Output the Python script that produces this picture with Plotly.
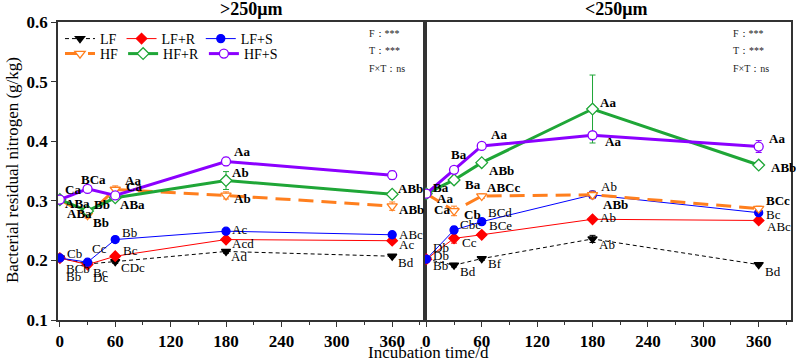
import plotly.graph_objects as go
from plotly.subplots import make_subplots

# ---------------- data ----------------
days = [0, 30, 60, 180, 360]
series_names = ["LF", "LF+R", "LF+S", "HF", "HF+R", "HF+S"]

# >250 µm panel
big_LF   = [0.204, 0.194, 0.198, 0.215, 0.207]
big_LFR  = [0.204, 0.193, 0.207, 0.235, 0.233]
big_LFS  = [0.204, 0.197, 0.235, 0.249, 0.243]
big_HF   = [0.302, 0.276, 0.319, 0.309, 0.291]
big_HFR  = [0.302, 0.283, 0.305, 0.334, 0.311]
big_HFS  = [0.302, 0.320, 0.309, 0.366, 0.343]

big_LF_err  = [0.002, 0.003, 0.003, 0.003, 0.002]
big_LFR_err = [0.002, 0.004, 0.003, 0.003, 0.002]
big_LFS_err = [0.002, 0.003, 0.002, 0.002, 0.002]
big_HF_err  = [0.004, 0.005, 0.006, 0.006, 0.007]
big_HFR_err = [0.004, 0.004, 0.004, 0.015, 0.003]
big_HFS_err = [0.004, 0.003, 0.004, 0.007, 0.007]

big_LF_lab  = ["Bb", "Dc", "CDc", "Ad", "Bd"]
big_LFR_lab = ["BCb", "Bc", "Bc", "Acd", "Ac"]
big_LFS_lab = ["Cb", "Cc", "Bb", "Ac", "ABc"]
big_HF_lab  = ["ABa", "Bb", "Aa", "Ab", "ABb"]
big_HFR_lab = ["ABa", "Bb", "ABa", "Ab", "ABb"]
big_HFS_lab = ["Ca", "BCa", "Ca", "Aa", ""]

# <250 µm panel
small_LF   = [0.202, 0.192, 0.203, 0.236, 0.193]
small_LFR  = [0.202, 0.237, 0.243, 0.269, 0.267]
small_LFS  = [0.202, 0.251, 0.265, 0.310, 0.280]
small_HF   = [0.312, 0.283, 0.308, 0.310, 0.287]
small_HFR  = [0.312, 0.335, 0.364, 0.454, 0.360]
small_HFS  = [0.312, 0.352, 0.392, 0.410, 0.391]

small_LF_err  = [0.002, 0.003, 0.003, 0.006, 0.002]
small_LFR_err = [0.002, 0.008, 0.004, 0.003, 0.003]
small_LFS_err = [0.002, 0.006, 0.004, 0.006, 0.004]
small_HF_err  = [0.002, 0.008, 0.004, 0.006, 0.004]
small_HFR_err = [0.002, 0.006, 0.003, 0.057, 0.004]
small_HFS_err = [0.002, 0.004, 0.003, 0.003, 0.010]

small_LF_lab  = ["Bb", "Bd", "Bf", "Ab", "Bd"]
small_LFR_lab = ["Db", "Cc", "BCe", "Ab", "ABc"]
small_LFS_lab = ["Db", "Cbc", "BCd", "Ab", "Bc"]
small_HF_lab  = ["Ca", "Cb", "ABCc", "ABb", "BCc"]
small_HFR_lab = ["Aa", "Ba", "ABb", "Aa", "ABb"]
small_HFS_lab = ["Ba", "Ba", "Aa", "Aa", "Aa"]

stats_lines = ["F：***", "T：***", "F×T：ns"]
panel_titles = [">250μm", "<250μm"]
x_ticks = [0, 60, 120, 180, 240, 300, 360]
y_ticks = [0.1, 0.2, 0.3, 0.4, 0.5, 0.6]

# ---------------- styles ----------------
FONT = "Liberation Serif"
styles = {
    "LF":   dict(color="#000000", width=1, dash="4px,3px", symbol="triangle-down", size=8, fill=None),
    "LF+R": dict(color="#FF0000", width=1, dash="solid", symbol="diamond", size=8, fill=None),
    "LF+S": dict(color="#0000FF", width=1, dash="solid", symbol="circle", size=8, fill=None),
    "HF":   dict(color="#FF7F1E", width=3, dash="15px,8px", symbol="triangle-down", size=9, fill="white"),
    "HF+R": dict(color="#1FA637", width=3, dash="solid", symbol="diamond", size=9, fill="white"),
    "HF+S": dict(color="#8B00FF", width=3, dash="solid", symbol="circle", size=9, fill="white"),
}

# label offsets (dx right, dy down) in px
big_off = {
    "LF":   [(4, 18), (3, 14), (4, 6), (3, 5), (4, 6)],
    "LF+R": [(4, 10), (3, 8), (6, -6), (4, 4), (5, 4)],
    "LF+S": [(5, -5), (2, -14), (5, -7), (4, -2), (5, 0)],
    "HF":   [(5, 14), (3, 7), (8, -9), (6, 3), (5, 3)],
    "HF+R": [(3, 4), (4, -6), (3, 7), (4, -8), (4, -6)],
    "HF+S": [(3, -10), (-9, -9), (9, -9), (6, -10), (0, 0)],
}
small_off = {
    "LF":   [(5, 6), (4, 6), (4, 5), (4, 6), (4, 7)],
    "LF+R": [(5, -4), (6, 4), (5, -9), (5, -2), (6, 6)],
    "LF+S": [(5, -12), (4, -6), (4, -9), (6, -8), (5, 2)],
    "HF":   [(6, 16), (8, 4), (3, -9), (8, 10), (5, -8)],
    "HF+R": [(9, 5), (9, 5), (5, 8), (5, -7), (10, 2)],
    "HF+S": [(5, -6), (-5, -15), (7, -11), (10, 6), (8, -8)],
}

big = {"LF": (big_LF, big_LF_err, big_LF_lab), "LF+R": (big_LFR, big_LFR_err, big_LFR_lab),
       "LF+S": (big_LFS, big_LFS_err, big_LFS_lab), "HF": (big_HF, big_HF_err, big_HF_lab),
       "HF+R": (big_HFR, big_HFR_err, big_HFR_lab), "HF+S": (big_HFS, big_HFS_err, big_HFS_lab)}
small = {"LF": (small_LF, small_LF_err, small_LF_lab), "LF+R": (small_LFR, small_LFR_err, small_LFR_lab),
         "LF+S": (small_LFS, small_LFS_err, small_LFS_lab), "HF": (small_HF, small_HF_err, small_HF_lab),
         "HF+R": (small_HFR, small_HFR_err, small_HFR_lab), "HF+S": (small_HFS, small_HFS_err, small_HFS_lab)}

fig = make_subplots(rows=1, cols=2, horizontal_spacing=0, shared_yaxes=True)

annotations = []
draw_order = ["LF", "LF+R", "LF+S", "HF", "HF+R", "HF+S"]
for col, (data, offs) in enumerate([(big, big_off), (small, small_off)], start=1):
    for name in draw_order:
        vals, errs, labs = data[name]
        st = styles[name]
        fig.add_trace(go.Scatter(
            x=days, y=vals, name=name, mode="lines+markers",
            line=dict(color=st["color"], width=st["width"], dash=st["dash"]),
            marker=dict(symbol=st["symbol"], size=st["size"], color=st["fill"] or st["color"],
                        line=dict(color=st["color"], width=1.3)),
            error_y=dict(type="data", array=errs, visible=True, color=st["color"], thickness=1, width=3),
            showlegend=(col == 1),
            legend="legend" if name.startswith("LF") else "legend2",
        ), row=1, col=col)
        xr = "x" if col == 1 else "x2"
        yr = "y" if col == 1 else "y2"
        bold = name.startswith("HF")
        for xi, yi, lab, (dx, dy) in zip(days, vals, labs, offs[name]):
            if not lab:
                continue
            annotations.append(dict(
                x=xi, y=yi, xref=xr, yref=yr, text=f"<b>{lab}</b>" if bold else lab,
                showarrow=False, xanchor="left", yanchor="middle", xshift=dx, yshift=-dy,
                font=dict(family=FONT, size=13, color="black")))

# geometry helpers (pixels -> paper)
L, R, T, B = 58, 3, 22, 42
W, H = 796, 362
pw, ph = W - L - R, H - T - B
def px(x): return (x - L) / pw
def py(y): return (H - B - y) / ph

for xc, t in zip([252, 618], panel_titles):
    annotations.append(dict(x=px(xc), y=py(9), xref="paper", yref="paper", text=f"<b>{t}</b>",
                            showarrow=False, xanchor="center", yanchor="middle",
                            font=dict(family=FONT, size=18, color="black")))
for xs in [368, 733]:
    for i, s in enumerate(stats_lines):
        annotations.append(dict(x=px(xs), y=py(33 + 17.5 * i), xref="paper", yref="paper", text=s,
                                showarrow=False, xanchor="left", yanchor="middle",
                                font=dict(family=FONT, size=10, color="#222")))
annotations.append(dict(x=px(13), y=py(170), xref="paper", yref="paper",
                        text="Bacterial residual nitrogen (g/kg)", textangle=-90, showarrow=False,
                        xanchor="center", yanchor="middle", font=dict(family=FONT, size=17, color="black")))
annotations.append(dict(x=px(430), y=py(352), xref="paper", yref="paper",
                        text="Incubation time/d", showarrow=False,
                        xanchor="center", yanchor="middle", font=dict(family=FONT, size=17, color="black")))

axis_common = dict(showline=True, linecolor="#333", linewidth=1.5, mirror=True, showgrid=False, zeroline=False)
for c in [1, 2]:
    fig.update_xaxes(range=[-2, 395], tickvals=x_ticks, ticks="outside", ticklen=5, tickwidth=1.2,
                     tickcolor="#333", minor=dict(dtick=30, tick0=0, ticks="outside", ticklen=3, tickcolor="#333"),
                     tickfont=dict(family=FONT, size=17, color="black", weight="bold"),
                     row=1, col=c, **axis_common)
fig.update_yaxes(range=[0.1, 0.6], tickvals=y_ticks, tickformat=".1f", ticks="outside", ticklen=5,
                 tickwidth=1.2, tickcolor="#333",
                 tickfont=dict(family=FONT, size=17, color="black", weight="bold"),
                 row=1, col=1, **axis_common)
fig.update_yaxes(range=[0.1, 0.6], showticklabels=False, ticks="", row=1, col=2, **axis_common)

legend_common = dict(orientation="h", xanchor="left", yanchor="middle", bgcolor="rgba(0,0,0,0)",
                     font=dict(family=FONT, size=14, color="black"), itemwidth=30,
                     tracegroupgap=0)
fig.update_layout(
    width=W, height=H, margin=dict(l=L, r=R, t=T, b=B),
    paper_bgcolor="white", plot_bgcolor="white",
    legend=dict(x=px(60), y=py(39), **legend_common),
    legend2=dict(x=px(60), y=py(54), **legend_common),
    annotations=annotations,
)

fig.write_html("out.html", config={"displayModeBar": False},
               post_script="document.body.style.margin='0';document.body.style.padding='0';")
